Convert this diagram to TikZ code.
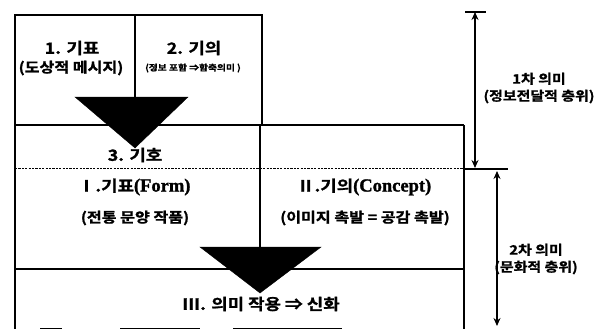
\documentclass[tikz,border=0pt]{standalone}
\usepackage{fontspec}
\setmainfont{Noto Sans CJK KR}[BoldFont={* Bold}, BoldFeatures={FakeBold=1.2}, FakeStretch=1.15]
\newfontfamily\sr{Liberation Serif Bold}[FakeBold=1.5]
\usetikzlibrary{arrows.meta}
\tikzset{
  box/.style={draw=black, line width=1.3pt},
  tri/.style={fill=black, draw=black},
  lbl/.style={inner sep=0pt, font=\bfseries\fontsize{15.5}{17}\selectfont},
  sub/.style={inner sep=0pt, font=\bfseries\fontsize{14}{16}\selectfont},
  tiny/.style={inner sep=0pt, font=\bfseries\fontsize{8.5}{10}\selectfont},
  side/.style={inner sep=0pt, font=\bfseries\fontsize{13}{17}\selectfont, align=center},
  dim/.style={line width=1.3pt, {Stealth[length=8pt,width=7pt]}-{Stealth[length=8pt,width=7pt]}},
}
\newcommand{\serifpart}[1]{{\sr\fontsize{18.5}{20}\selectfont #1}}
\begin{document}
\begin{tikzpicture}[x=1pt,y=-1pt]
\useasboundingbox (0,0) rectangle (608,329);
% top box
\draw[box] (15,125) -- (15,15) -- (262,15) -- (262,125);
\draw[box] (135,15) -- (135,98);
% middle / bottom boxes
\draw[box] (15,125) -- (464,125);
\draw[box] (15,125) -- (15,329);
\draw[box] (464,125) -- (464,329);
\draw[box] (260,125) -- (260,248);
\draw[box] (15,269) -- (464,269);
\draw[line width=0.9pt, dash pattern=on 2.2pt off 1.2pt] (15,168) -- (464,168);
% triangles
\coordinate (t1a) at (75,97);
\coordinate (t1b) at (188,97);
\coordinate (t1c) at (135,148);
\fill[tri] (t1a) -- (t1b) -- (t1c) -- cycle;
\coordinate (t2a) at (200,247);
\coordinate (t2b) at (321,247);
\coordinate (t2c) at (260,293);
\fill[tri] (t2a) -- (t2b) -- (t2c) -- cycle;
% bottom fragments
\draw[line width=1pt] (40,328) -- (62,328);
\draw[line width=1pt] (120,328) -- (200,328);
\draw[line width=1pt] (233,328) -- (342,328);
% texts
\node[lbl] (a1) at (72,48) {1. 기표};
\node[sub] (a2) at (71,68) {(도상적 메시지)};
\node[lbl] (b1) at (194,48) {2. 기의};
\node[tiny] (b2) at (193,68) {(정보 포함 ⇒함축의미 )};
\node[lbl] (c0) at (135,155) {3. 기호};
\node[lbl] (c1) at (134,187) {Ⅰ.기표\serifpart{(Form)}};
\node[sub] (c2) at (135,218) {(전통 문양 작품)};
\node[lbl] (d1) at (364,187) {Ⅱ.기의\serifpart{(Concept)}};
\node[sub] (d2) at (365,218) {(이미지 촉발 = 공감 촉발)};
\node[lbl] (e1) at (261,304) {Ⅲ. 의미 작용 ⇒ 신화};
% right dimension lines
\coordinate (p1) at (475,12);
\coordinate (p2) at (475,168);
\coordinate (q1) at (497,171);
\coordinate (q2) at (497,326);
\coordinate (k1) at (465,12);
\coordinate (k2) at (486,12);
\coordinate (h1) at (464,169);
\coordinate (h2) at (508,169);
\draw[line width=1.3pt] (k1) -- (k2);
\draw[line width=1.3pt] (h1) -- (h2);
\draw[dim] (p1) -- (p2);
\draw[dim] (q1) -- (q2);
\node[side] (s1) at (539,88) {1차 의미\\(정보전달적 층위)};
\node[side] (s2) at (536,259) {2차 의미\\(문화적 층위)};
\end{tikzpicture}
\end{document}
